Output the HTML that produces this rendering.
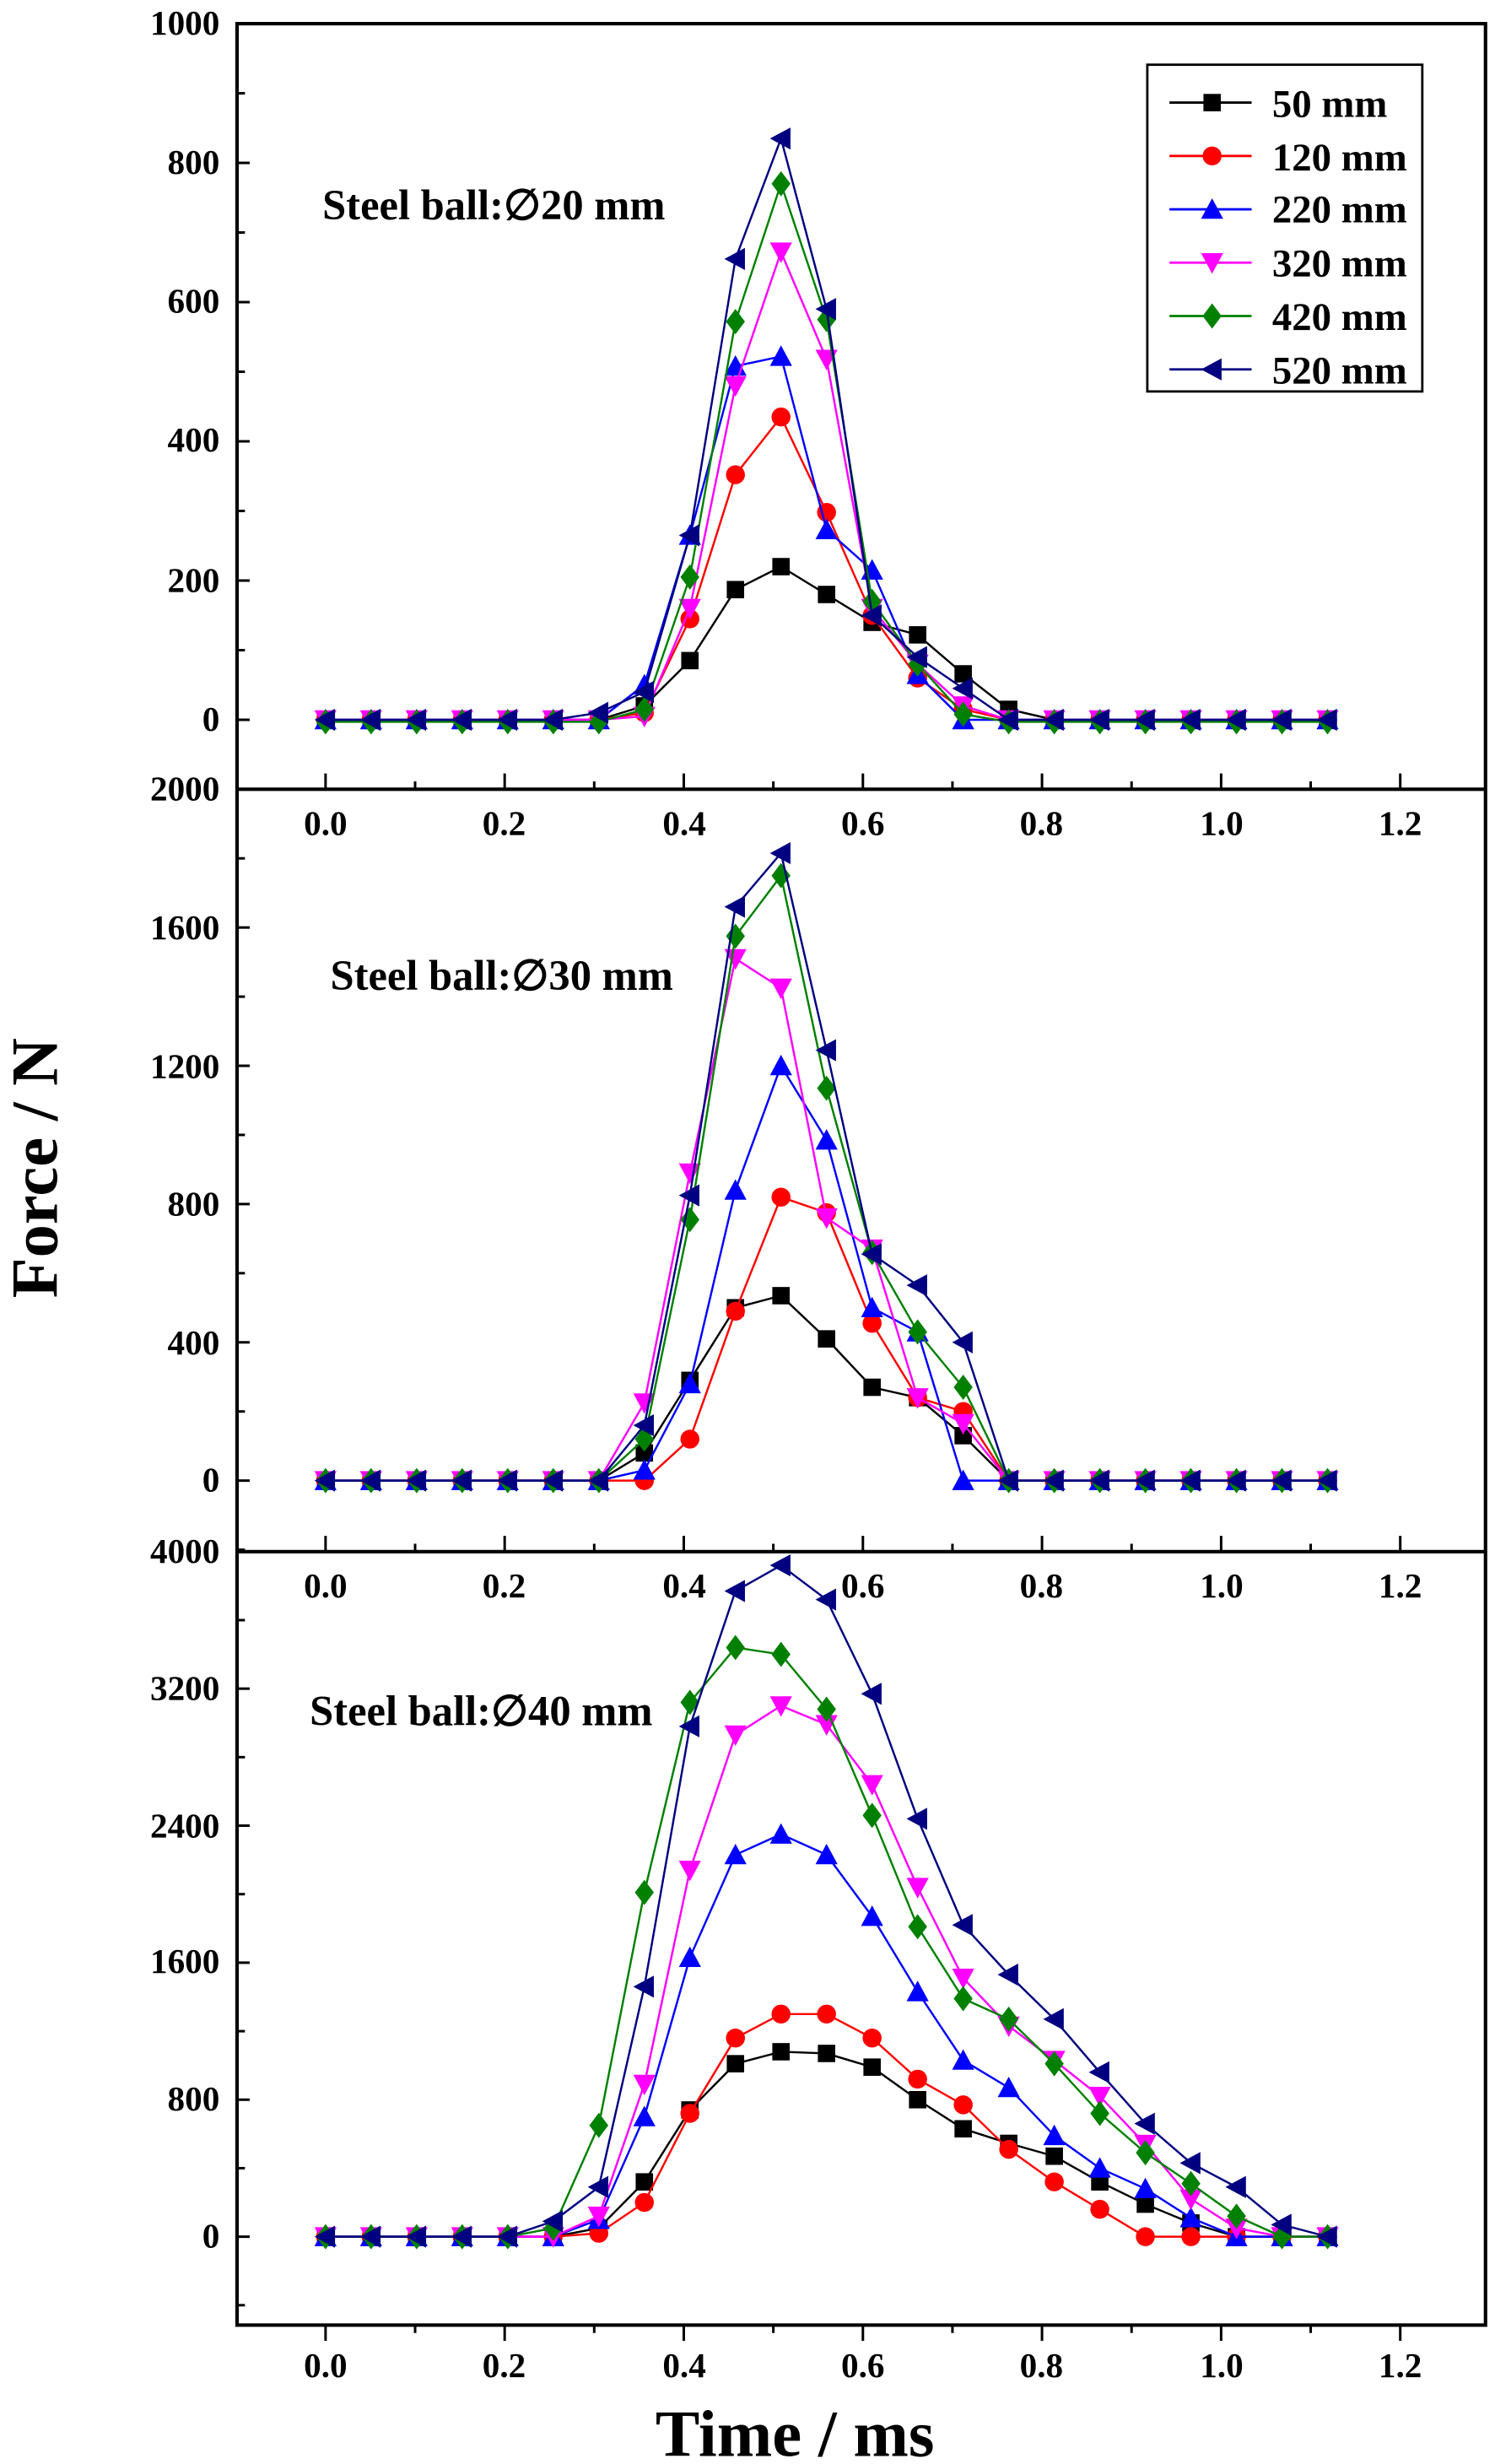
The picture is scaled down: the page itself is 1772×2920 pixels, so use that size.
<!DOCTYPE html>
<html><head><meta charset="utf-8"><style>
html,body{margin:0;padding:0;background:#fff}
svg{display:block}
text{font-family:"Liberation Serif",serif;font-weight:bold;fill:#000}
</style></head><body>
<svg id="s" width="1772" height="2920" viewBox="0 0 946 1561" preserveAspectRatio="none" xmlns="http://www.w3.org/2000/svg">
<g id="axes" stroke="#000" stroke-width="2.2" fill="none">
<rect x="150" y="15" width="790" height="1458"/>
<line x1="150" y1="500" x2="940" y2="500"/>
<line x1="150" y1="983" x2="940" y2="983"/>
</g>
<g id="ticks" stroke="#000" stroke-width="1.6"></g>
<g id="data"></g>
<g font-size="22" text-anchor="end">
<text x="139" y="22">1000</text><text x="139" y="110">800</text><text x="139" y="198">600</text><text x="139" y="286">400</text><text x="139" y="375">200</text><text x="139" y="463">0</text>
<text x="139" y="507">2000</text><text x="139" y="595">1600</text><text x="139" y="683">1200</text><text x="139" y="770">800</text><text x="139" y="858">400</text><text x="139" y="945">0</text>
<text x="139" y="990">4000</text><text x="139" y="1077">3200</text><text x="139" y="1164">2400</text><text x="139" y="1250">1600</text><text x="139" y="1337">800</text><text x="139" y="1424">0</text>
</g>
<g font-size="22" text-anchor="middle">
<text x="206" y="529">0.0</text><text x="319" y="529">0.2</text><text x="433" y="529">0.4</text><text x="546" y="529">0.6</text><text x="659" y="529">0.8</text><text x="773" y="529">1.0</text><text x="886" y="529">1.2</text>
<text x="206" y="1012">0.0</text><text x="319" y="1012">0.2</text><text x="433" y="1012">0.4</text><text x="546" y="1012">0.6</text><text x="659" y="1012">0.8</text><text x="773" y="1012">1.0</text><text x="886" y="1012">1.2</text>
<text x="206" y="1506">0.0</text><text x="319" y="1506">0.2</text><text x="433" y="1506">0.4</text><text x="546" y="1506">0.6</text><text x="659" y="1506">0.8</text><text x="773" y="1506">1.0</text><text x="886" y="1506">1.2</text>
</g>
<g font-size="27">
<text x="204" y="139">Steel ball:∅20 mm</text>
<text x="209" y="627">Steel ball:∅30 mm</text>
<text x="196" y="1093">Steel ball:∅40 mm</text>
</g>
<text x="503" y="1556" font-size="42" text-anchor="middle">Time / ms</text>
<text transform="translate(36,740) rotate(-90)" font-size="42" text-anchor="middle">Force / N</text>
<rect x="726" y="41" width="174" height="207" fill="#fff" stroke="#000" stroke-width="1.5"/>
<g id="leg"></g>
<g font-size="25">
<text x="805" y="74">50 mm</text><text x="805" y="108">120 mm</text><text x="805" y="141">220 mm</text><text x="805" y="175">320 mm</text><text x="805" y="209">420 mm</text><text x="805" y="243">520 mm</text>
</g>
</svg>
<script>
var NS="http://www.w3.org/2000/svg";
function el(p,n,a){var e=document.createElementNS(NS,n);for(var k in a)e.setAttribute(k,a[k]);p.appendChild(e);return e;}
var tk=document.getElementById('ticks');
function X(t){return 206+t*566.7;}
var P=[{y0:456,top:15,bot:500,max:1000,step:100},{y0:938,top:500,bot:983,max:2000,step:200},{y0:1417,top:983,bot:1473,max:4000,step:400}];
P.forEach(function(p,pi){
 var sc=(p.y0-p.top)/p.max;
 for(var v=-p.max;v<=p.max;v+=p.step){var y=p.y0-v*sc; if(y<p.top-0.5||y>p.bot+0.5)continue;
  var maj=Math.round(v/p.step)%2==0; el(tk,'line',{x1:150,x2:150+(maj?8:5),y1:y,y2:y});}
 for(var i=-1;i<=13;i++){var x=X(i/10); if(x<151||x>939)continue; var maj=i%2==0;
  if(pi<2) el(tk,'line',{x1:x,x2:x,y1:p.bot,y2:p.bot-(maj?10:5)});
  else el(tk,'line',{x1:x,x2:x,y1:p.bot,y2:p.bot+(maj?10:5)});}
});
var C=['#000','#f00','#00f','#f0f','#008000','#000080'];
function pad(a){while(a.length<23)a.push(0);return a;}
var D=[
[[0,0,0,0,0,0,0,20,85,187,220,180,140,122,66,15],[0,0,0,0,0,0,0,10,145,352,435,298,150,60,15,0],[0,0,0,0,0,0,0,50,265,508,522,273,215,65,0,0],[0,0,0,0,0,0,0,5,160,480,672,518,160,80,20,0],[-3,-3,-3,-3,-3,-3,-3,15,205,572,770,575,170,80,8,-3,-3,-3,-3,-3,-3,-3,-3],[0,0,0,0,0,0,10,40,265,662,835,590,150,90,45,0]],
[[0,0,0,0,0,0,0,80,290,500,535,410,270,240,130,0],[0,0,0,0,0,0,0,0,120,490,820,775,455,240,200,0],[0,0,0,0,0,0,0,30,280,840,1200,985,500,430,0,0],[0,0,0,0,0,0,0,225,890,1510,1425,760,670,240,165,0],[0,0,0,0,0,0,0,120,755,1575,1750,1135,660,430,270,0],[0,0,0,0,0,0,0,160,825,1660,1815,1245,655,565,400,0]],
[[0,0,0,0,0,0,50,320,740,1010,1080,1070,990,800,630,545,470,320,190,80,0],[0,0,0,0,0,0,20,200,720,1160,1300,1300,1160,920,770,510,320,160,0,0,0],[0,0,0,0,0,0,100,700,1630,2230,2350,2230,1870,1430,1030,870,590,400,280,110,0],[0,0,0,0,0,0,120,890,2140,2930,3100,2990,2640,2040,1510,1230,1030,820,540,220,50,0],[0,0,0,0,0,50,650,2010,3120,3440,3400,3080,2460,1810,1390,1270,1010,720,490,310,120,0],[0,0,0,0,0,90,290,1460,2980,3770,3920,3720,3170,2440,1820,1530,1270,960,660,430,290,70,0]]
];
function marker(g,k,x,y,c){
 if(k==0)el(g,'rect',{x:x-5.5,y:y-5.5,width:11,height:11,fill:c});
 else if(k==1)el(g,'circle',{cx:x,cy:y,r:6,fill:c});
 else if(k==2)el(g,'polygon',{points:(x)+','+(y-7)+' '+(x-7)+','+(y+6)+' '+(x+7)+','+(y+6),fill:c});
 else if(k==3)el(g,'polygon',{points:(x)+','+(y+7)+' '+(x-7)+','+(y-6)+' '+(x+7)+','+(y-6),fill:c});
 else if(k==4)el(g,'polygon',{points:x+','+(y-8)+' '+(x+6)+','+y+' '+x+','+(y+8)+' '+(x-6)+','+y,fill:c});
 else el(g,'polygon',{points:(x-7)+','+y+' '+(x+6)+','+(y-7)+' '+(x+6)+','+(y+7),fill:c});
}
var dg=document.getElementById('data');
D.forEach(function(set,pi){var p=P[pi],sc=(p.y0-p.top)/p.max;
 set.forEach(function(a,k){a=pad(a.slice());var pts=[];
  for(var i=0;i<23;i++)pts.push([206+i*28.82,p.y0-a[i]*sc]);
  el(dg,'polyline',{points:pts.map(function(q){return q.join(',')}).join(' '),fill:'none',stroke:C[k],'stroke-width':1.3});
  pts.forEach(function(q){marker(dg,k,q[0],q[1],C[k]);});
 });
});
var lg=document.getElementById('leg');
for(var k=0;k<6;k++){var y=65+k*33.8;el(lg,'line',{x1:740,x2:792,y1:y,y2:y,stroke:C[k],'stroke-width':1.5});marker(lg,k,767,y,C[k]);}
</script>
</body></html>
